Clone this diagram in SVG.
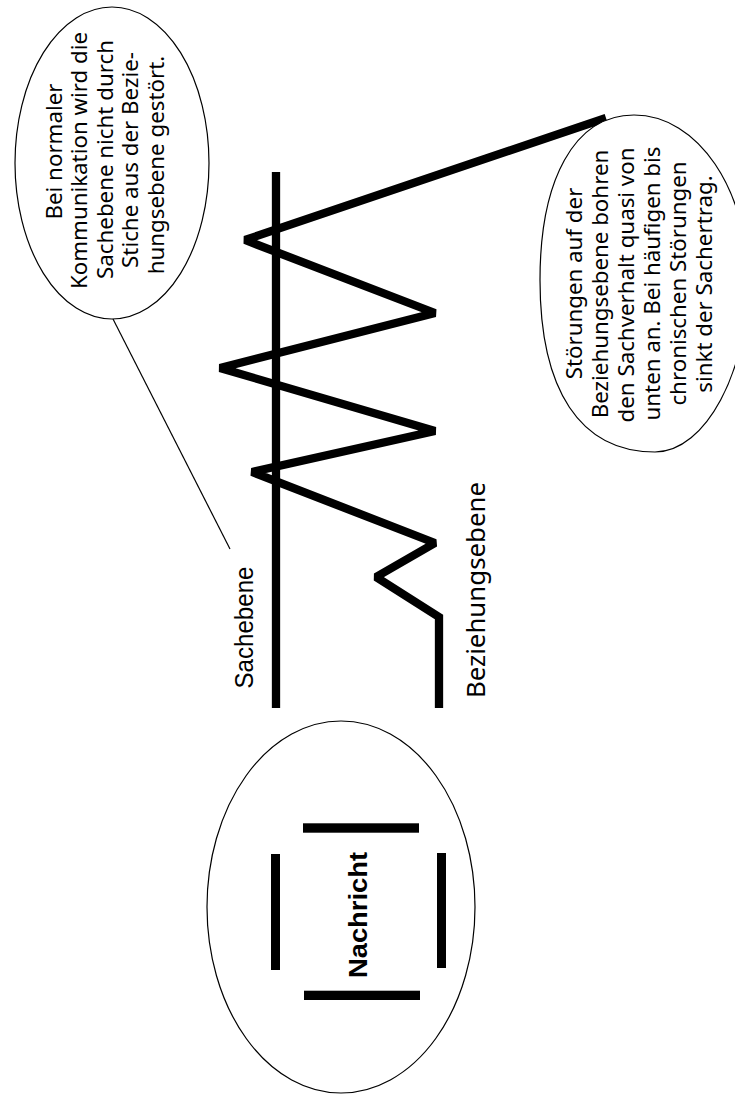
<svg xmlns="http://www.w3.org/2000/svg" width="735" height="1095" viewBox="0 0 735 1095">
<style>
.bubble{fill:#fff;stroke:#000;stroke-width:1.2}
.note{font-family:"Noto Sans","Open Sans",sans-serif;font-size:22.3px;fill:#000;text-anchor:middle}
.thick{fill:none;stroke:#000;stroke-width:8.3;stroke-linejoin:miter;stroke-miterlimit:1.5}
.bar{fill:#000}
</style>
<rect width="735" height="1095" fill="#fff"/>
<g id="connectors">
<line x1="113" y1="319" x2="230" y2="549" stroke="#000" stroke-width="1.2"/>
<polyline class="thick" points="439,708 439,617 376,577 435,543 252,472 435,431 220,368 435,313 245,240 606,118"/>
</g>
<g id="sachebene">
<line x1="276" y1="172" x2="276" y2="708" stroke="#000" stroke-width="8.3"/>
<text transform="translate(253,627.5) rotate(-90)" font-family="Liberation Sans, Arial, sans-serif" font-size="25" text-anchor="middle" textLength="122" lengthAdjust="spacingAndGlyphs">Sachebene</text>
</g>
<g id="beziehungsebene">
<text transform="translate(485,590) rotate(-90)" font-family="Noto Sans, Open Sans, sans-serif" font-size="26" text-anchor="middle" textLength="216" lengthAdjust="spacingAndGlyphs">Beziehungsebene</text>
</g>
<g id="note-left">
<ellipse class="bubble" cx="112" cy="163" rx="97" ry="156"/>
<text class="note" transform="translate(62,151.5) rotate(-90)">Bei normaler</text>
<text class="note" transform="translate(87,160.5) rotate(-90)">Kommunikation wird die</text>
<text class="note" transform="translate(112.7,159.5) rotate(-90)">Sachebene nicht durch</text>
<text class="note" transform="translate(138.3,160) rotate(-90)">Stiche aus der Bezie-</text>
<text class="note" transform="translate(163.5,165) rotate(-90)">hungsebene gestört.</text>
</g>
<g id="note-right">
<path class="bubble" d="M634,115 C574,115 540,180 540,280 C540,390 580,452 655,452 C706,452 748,370 748,282 C748,190 698,115 634,115 Z"/>
<text class="note" transform="translate(581.5,283.5) rotate(-90)">Störungen auf der</text>
<text class="note" transform="translate(607.5,284) rotate(-90)">Beziehungsebene bohren</text>
<text class="note" transform="translate(633.5,285) rotate(-90)">den Sachverhalt quasi von</text>
<text class="note" transform="translate(659.5,283.5) rotate(-90)">unten an. Bei häufigen bis</text>
<text class="note" transform="translate(685.5,283.5) rotate(-90)">chronischen Störungen</text>
<text class="note" transform="translate(711.5,284) rotate(-90)">sinkt der Sachertrag.</text>
</g>
<g id="nachricht">
<ellipse class="bubble" cx="341" cy="907" rx="134" ry="186"/>
<rect class="bar" x="271" y="854" width="9" height="116"/>
<rect class="bar" x="437" y="853" width="9" height="115"/>
<rect class="bar" x="303" y="823.3" width="116" height="9.4"/>
<rect class="bar" x="304" y="990.7" width="116" height="9.3"/>
<text transform="translate(366.7,915) rotate(-90)" font-family="Liberation Sans, Arial, sans-serif" font-size="26" font-weight="bold" text-anchor="middle" textLength="126" lengthAdjust="spacingAndGlyphs">Nachricht</text>
</g>
</svg>
